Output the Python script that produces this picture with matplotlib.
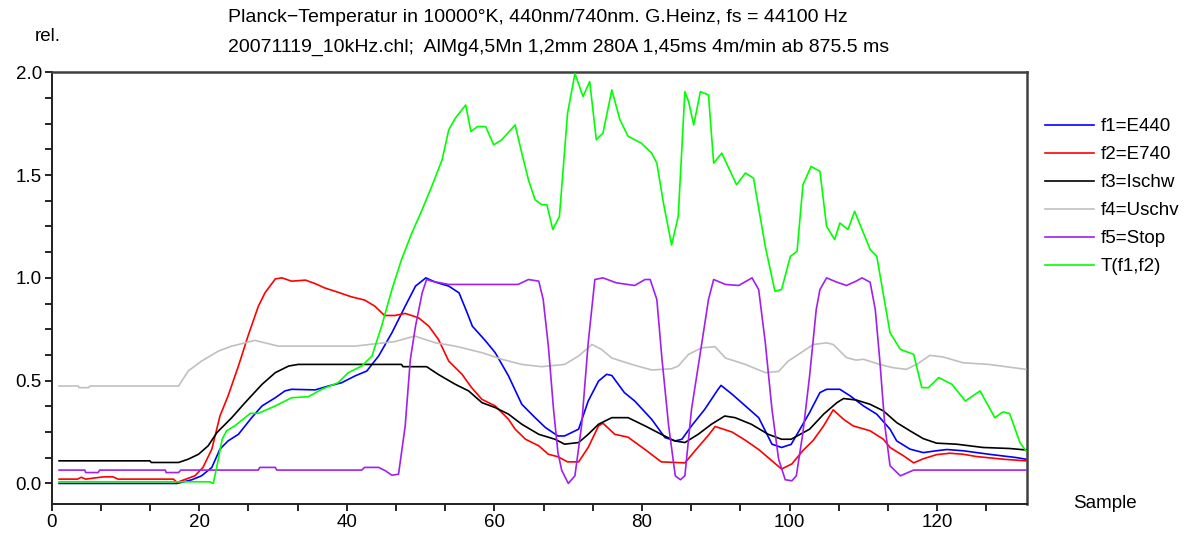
import matplotlib
matplotlib.use("Agg")
import matplotlib.pyplot as plt
from matplotlib.ticker import MultipleLocator, FormatStrFormatter

plt.rcParams['font.family'] = ['Liberation Sans', 'DejaVu Sans']

title_line1 = "Planck\u2212Temperatur in 10000\u00b0K, 440nm/740nm. G.Heinz, fs = 44100 Hz"
title_line2 = "20071119_10kHz.chl;  AlMg4,5Mn 1,2mm 280A 1,45ms 4m/min ab 875.5 ms"
y_label = "rel."
x_label = "Sample"

series_names = ["f1=E440", "f2=E740", "f3=Ischw", "f4=Uschv", "f5=Stop", "T(f1,f2)"]
series_colors = ["#0000ff", "#ff0000", "#000000", "#c0c0c0", "#a020f0", "#00ff00"]

f1_E440 = [(1,0.0),(17,0.0),(19,0.018),(20.3,0.037),(21.7,0.078),(22.8,0.167),(23.9,0.207),(25.3,0.239),
           (27.1,0.32),(28.5,0.377),(30.3,0.417),(31.6,0.45),(32.5,0.458),(35.7,0.455),(37.5,0.474),(39.3,0.49),
           (41.1,0.523),(42.7,0.547),(44.3,0.62),(46.1,0.733),(47.9,0.862),(49.3,0.96),(50.7,1.0),(52,0.979),
           (53.8,0.96),(55.2,0.927),(56.3,0.83),(57,0.765),(58.8,0.693),(60.1,0.636),(61.9,0.523),(63.7,0.385),
           (65.5,0.32),(66.9,0.272),(68.6,0.231),(69.5,0.231),(71.4,0.264),(72.7,0.401),(74.1,0.498),(75.2,0.531),
           (75.9,0.525),(77.6,0.442),(79,0.401),(81.3,0.312),(83.1,0.223),(84.5,0.207),(85.4,0.215),(86.7,0.28),
           (88.5,0.361),(90.3,0.458),(90.7,0.477),(92.2,0.434),(94,0.377),(95.8,0.32),(97.6,0.191),(98.9,0.175),
           (100.2,0.19),(101.4,0.264),(102.7,0.345),(104.1,0.442),(105,0.458),(106.8,0.458),(108.2,0.426),
           (110,0.377),(111.8,0.337),(113.6,0.264),(114.5,0.207),(116.3,0.167),(118.1,0.15),(119.9,0.159),
           (121.3,0.165),(123.5,0.159),(127,0.142),(130.7,0.126),(132,0.118)]

f2_E740 = [(1,0.021),(3.5,0.021),(4,0.03),(4.6,0.021),(7,0.032),(8.3,0.032),(9,0.021),(16.5,0.021),(17,0.005),
           (18.1,0.02),(19.4,0.037),(20.5,0.078),(21.7,0.167),(22.8,0.328),(23.9,0.426),(25.3,0.571),(26.6,0.717),
           (28,0.862),(28.9,0.927),(30.3,0.995),(31.2,1.0),(32.5,0.984),(34.4,0.989),(35.7,0.972),(37,0.951),
           (38.8,0.93),(40.6,0.908),(42.4,0.892),(43.8,0.862),(45.1,0.817),(46.5,0.817),(47.9,0.827),(49.7,0.806),
           (51.1,0.765),(52.4,0.701),(53.8,0.595),(55.6,0.531),(56.9,0.466),(58.3,0.409),(60.1,0.377),(61.9,0.312),
           (62.8,0.264),(64.2,0.215),(66,0.183),(67.3,0.142),(68.6,0.13),(69.9,0.105),(71.4,0.105),(72.7,0.175),
           (74.1,0.28),(74.7,0.293),(76.3,0.239),(78.1,0.225),(80.4,0.165),(82.6,0.105),(85.8,0.1),(87.2,0.16),
           (89,0.235),(89.9,0.277),(92.2,0.25),(94,0.21),(95.8,0.165),(97.6,0.11),(98.9,0.07),(100.3,0.095),
           (101.8,0.16),(103.2,0.21),(104.6,0.28),(105.9,0.358),(107.3,0.312),(108.6,0.28),(110.9,0.256),
           (112.7,0.215),(113.6,0.175),(115.4,0.135),(116.8,0.1),(118.1,0.12),(119.9,0.14),(121.7,0.147),
           (123.5,0.142),(125.3,0.131),(128.9,0.118),(132,0.11)]

f3_Ischw = [(1,0.11),(13.3,0.11),(13.5,0.102),(17.2,0.102),(18.5,0.118),(19.9,0.142),(21.2,0.183),(22.4,0.248),
            (24.4,0.32),(26.2,0.393),(28.5,0.482),(30.3,0.539),(32.1,0.571),(33.4,0.579),(47.4,0.579),(47.6,0.568),
            (50.8,0.568),(52.4,0.53),(54.7,0.482),(56.5,0.45),(58.3,0.393),(60.1,0.369),(61.9,0.337),(63.7,0.288),
            (66,0.239),(68.2,0.215),(69.5,0.191),(71.4,0.199),(72.7,0.239),(74.1,0.288),(75.9,0.32),(78.1,0.32),
            (80.4,0.28),(82.6,0.239),(84.4,0.207),(85.8,0.199),(87.6,0.239),(89.4,0.288),(91.2,0.328),(92.6,0.32),
            (94.8,0.288),(97.1,0.239),(98.9,0.215),(100.2,0.215),(102.7,0.264),(104.6,0.337),(106.4,0.393),
            (107.3,0.413),(109,0.406),(110.9,0.385),(112.7,0.353),(114.5,0.296),(116.3,0.256),(118.1,0.218),
            (119.9,0.196),(122.6,0.191),(126.2,0.175),(129.8,0.17),(132,0.163)]

f4_Uschv = [(1,0.474),(3.6,0.474),(3.7,0.466),(5,0.466),(5.2,0.474),(17.2,0.474),(18.5,0.547),(20.3,0.595),
            (22.6,0.644),(24.4,0.668),(26.2,0.684),(27.5,0.696),(28.9,0.684),(30.7,0.668),(41.1,0.668),(46.5,0.69),
            (49.2,0.717),(52,0.684),(54.7,0.668),(58.3,0.636),(61,0.604),(63.7,0.579),(66.4,0.568),(69.5,0.579),
            (71.4,0.62),(73.2,0.676),(74.5,0.652),(75.9,0.61),(78.6,0.579),(81.3,0.552),(84,0.558),(84.9,0.571),
            (86.3,0.628),(88.1,0.66),(89.9,0.665),(91.3,0.61),(94,0.579),(96.7,0.539),(98.5,0.545),(99.8,0.595),
            (101.2,0.628),(103.2,0.676),(105,0.684),(105.9,0.676),(107.7,0.612),(109,0.6),(110,0.604),(112.2,0.579),
            (114,0.563),(115.8,0.555),(117.2,0.579),(119,0.623),(120.8,0.615),(123.5,0.587),(127,0.579),(132,0.555)]

f5_Stop = [(1,0.065),(4.5,0.065),(4.6,0.053),(6.3,0.053),(6.5,0.065),(15.4,0.065),(15.5,0.053),(17.2,0.053),
           (17.5,0.065),(28,0.065),(28.2,0.078),(30.3,0.078),(30.5,0.065),(42,0.065),(42.4,0.078),(44.3,0.078),
           (45.2,0.062),(46.1,0.04),(47,0.045),(47.9,0.28),(48.6,0.604),(49.3,0.765),(50.2,0.927),(50.8,0.992),
           (51.5,0.984),(53.8,0.968),(63.2,0.968),(64.6,0.992),(66,0.984),(66.6,0.895),(67.3,0.668),(68,0.361),
           (68.6,0.15),(69.1,0.065),(70,0.0),(70.9,0.037),(71.8,0.28),(72.7,0.684),(73.6,0.992),(74.7,1.0),
           (76.5,0.976),(79,0.963),(80.4,0.992),(81.1,0.992),(82,0.895),(82.7,0.604),(83.6,0.28),(84.5,0.037),
           (85.2,0.018),(85.8,0.037),(86.7,0.361),(88.1,0.684),(89,0.895),(89.7,0.992),(91.3,0.968),(93.1,0.963),
           (94.9,1.0),(95.8,0.943),(96.7,0.684),(97.6,0.361),(98.5,0.118),(99.4,0.018),(100.3,0.013),(100.9,0.037),
           (101.8,0.248),(102.7,0.523),(103.6,0.846),(104.1,0.943),(105,1.0),(106.4,0.979),(107.7,0.963),
           (109,0.984),(109.8,1.0),(110.9,0.979),(111.6,0.846),(112.2,0.604),(112.9,0.28),(113.6,0.086),
           (115,0.037),(116.8,0.065),(132,0.065)]

T_f1_f2 = [(1,0.008),(21.4,0.008),(21.9,0.0),(22.4,0.086),(23.1,0.215),(23.7,0.256),(24.8,0.28),(26.2,0.32),
           (26.9,0.341),(28,0.341),(30.3,0.377),(32.5,0.417),(34.8,0.422),(36.6,0.458),(38.8,0.49),(40.2,0.539),
           (42,0.571),(43.4,0.62),(44.7,0.765),(46.1,0.943),(47.4,1.089),(48.8,1.218),(50.2,1.332),(51.5,1.445),
           (52.9,1.574),(53.8,1.72),(54.7,1.777),(56.1,1.841),(56.8,1.712),(57.7,1.736),(58.8,1.736),(59.9,1.647),
           (61,1.672),(62.8,1.744),(63.7,1.607),(64.6,1.477),(65.5,1.38),(66.4,1.356),(67.1,1.356),(67.9,1.235),
           (68.8,1.299),(69.9,1.8),(70.9,1.994),(72,1.882),(72.9,1.955),(73.8,1.672),(74.7,1.704),(75.9,1.914),
           (77,1.769),(78.1,1.689),(79.9,1.655),(81.3,1.607),(82,1.558),(82.9,1.363),(84,1.16),(84.9,1.299),
           (85.8,1.906),(86.3,1.858),(87,1.744),(87.9,1.906),(89,1.89),(89.7,1.558),(90.8,1.607),(92.8,1.453),
           (94,1.51),(95.1,1.485),(96.7,1.152),(98,0.935),(98.9,0.943),(100.1,1.105),(101,1.129),(101.8,1.453),
           (102.9,1.542),(104.1,1.518),(105,1.251),(106.1,1.186),(106.8,1.267),(107.9,1.235),(108.8,1.324),
           (110.9,1.138),(111.8,1.105),(113.6,0.733),(115,0.652),(116.8,0.628),(117.9,0.466),(118.8,0.466),
           (120.2,0.515),(122,0.482),(123.8,0.401),(125.8,0.45),(127.8,0.32),(128.9,0.348),(129.8,0.34),
           (131.2,0.199),(132,0.159)]

series_data = [f1_E440, f2_E740, f3_Ischw, f4_Uschv, f5_Stop, T_f1_f2]
draw_order = [3, 4, 5, 2, 1, 0]

FS = 13.5
W, H = 1192, 535
fig = plt.figure(figsize=(W / 100, H / 100), dpi=100)
ax = fig.add_axes([51.7 / W, 1 - 504 / H, (1027.3 - 51.7) / W, (504 - 72.3) / H])

lines = {}
for i in draw_order:
    xs = [p[0] for p in series_data[i]]
    ys = [p[1] for p in series_data[i]]
    ln, = ax.plot(xs, ys, color=series_colors[i], lw=1.2, label=series_names[i], zorder=2 + i)
    lines[i] = ln

ax.set_xlim(0, 132.2)
ax.set_ylim(-0.1, 2.0)
ax.xaxis.set_major_locator(MultipleLocator(20))
ax.xaxis.set_minor_locator(MultipleLocator(20 / 3))
ax.yaxis.set_major_locator(MultipleLocator(0.5))
ax.yaxis.set_minor_locator(MultipleLocator(0.125))
ax.yaxis.set_major_formatter(FormatStrFormatter('%.1f'))
ax.tick_params(which='both', direction='out', length=5, width=1.2, labelsize=FS, pad=2)
for s in ['left', 'bottom']:
    ax.spines[s].set_linewidth(1.4)
    ax.spines[s].set_color('#202020')
for s in ['top', 'right']:
    ax.spines[s].set_linewidth(1.8)
    ax.spines[s].set_color('#404040')

handles = [lines[i] for i in range(6)]
leg = ax.legend(handles, series_names, loc='upper left', bbox_to_anchor=(1045 / W, 1 - 118 / H),
                bbox_transform=fig.transFigure, frameon=False, fontsize=FS, handlelength=2.6,
                handletextpad=0.38, labelspacing=0.58, borderpad=0, borderaxespad=0)

fig.text(228 / W, 1 - 18 / H, title_line1, ha='left', va='center', fontsize=14)
fig.text(228 / W, 1 - 47 / H, title_line2, ha='left', va='center', fontsize=14)
fig.text(48 / W, 1 - 37 / H, y_label, ha='center', va='center', fontsize=FS)
fig.text(1105 / W, 1 - 504 / H, x_label, ha='center', va='center', fontsize=FS)

fig.savefig("out.png", dpi=100)
